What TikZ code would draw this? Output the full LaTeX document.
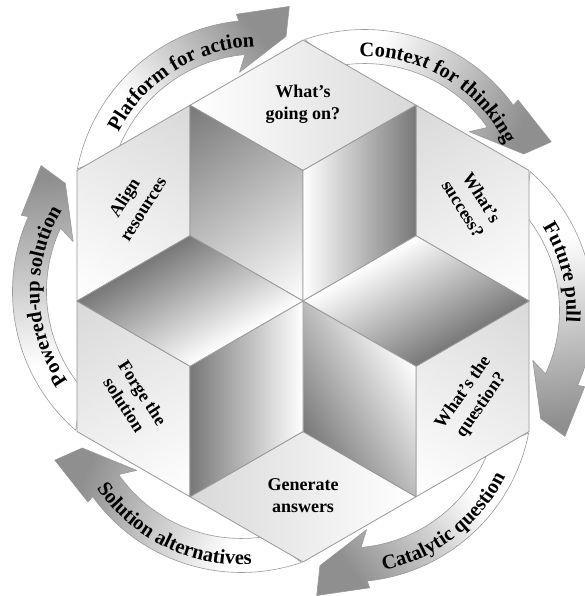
\documentclass[tikz,border=0pt]{standalone}
\usepackage{fontspec}
\setmainfont{Liberation Serif}
\usetikzlibrary{decorations.text,calc}
\definecolor{edgegray}{gray}{0.6}
\definecolor{innerdark}{gray}{0.47}
\definecolor{innermid}{gray}{0.85}
\definecolor{outerdark}{gray}{0.85}
\definecolor{outermid}{gray}{0.95}
\definecolor{arrowdark}{gray}{0.56}
\pgfdeclareverticalshading{bandshade}{100bp}{color(0bp)=(white); color(36bp)=(white); color(74bp)=(arrowdark); color(100bp)=(arrowdark)}
\newcommand\labfont{\bfseries\fontsize{18}{22}\selectfont}
\newcommand\arrfont{\bfseries\fontsize{20.5}{20.5}\selectfont}
\tikzset{
  face/.style={draw=edgegray, line width=0.8pt, line join=round},
  band/.style={draw=edgegray, line width=0.6pt, line join=round, shade, shading=bandshade, shading angle=#1},
  facelabel/.style={font=\labfont, align=center, inner sep=0pt, text=black},
  bandtext/.style={decorate, decoration={text along path, text align=center, text={|\arrfont|#1}}},
}
% #1 face path, #2 cx, #3 cy, #4 direction of dark side, #5 half span, #6 dark, #7 mid
\newcommand\gradface[7]{%
  \begin{scope}
    \clip #1;
    \begin{scope}[transform canvas={shift={(#2pt,#3pt)}, rotate=#4}]
      \shade[left color=white, middle color=#7, right color=#6] (-#5,-280) rectangle (#5,280);
      \fill[white] (-#5-300,-280) rectangle (-#5,280);
      \fill[#6] (#5,-280) rectangle (#5+300,280);
    \end{scope}
  \end{scope}
  \path[face] #1;}
\newcommand\curvedarrow[2]{%
  \begin{scope}[rotate=#1]
    \coordinate (C0) at (-45,97);
    \path[band=#2] ($(C0)+(169:184)$) arc[start angle=169, end angle=96, radius=184]
      -- ($(C0)+(96.5:191)$) -- ($(C0)+(81:200)$) -- ($(C0)+(80.5:170)$)
      -- ($(C0)+(98:133)$) -- ($(C0)+(95:150)$)
      arc[start angle=95, end angle=160, radius=150] -- cycle;
  \end{scope}}
\begin{document}
\begin{tikzpicture}[x=1pt,y=1pt]
\useasboundingbox (-303,301) rectangle (281,-295);
% ---- curved arrows (clockwise) ----
\curvedarrow{0}{-52.5}
\curvedarrow{-60}{-112.5}
\curvedarrow{-120}{-172.5}
\curvedarrow{-180}{-232.5}
\curvedarrow{-240}{-292.5}
\curvedarrow{-300}{-352.5}
% ---- hexagon points ----
\coordinate (O) at (0,0);
\coordinate (Vt) at (90:261);  \coordinate (Vur) at (30:261);
\coordinate (Vlr) at (-30:261); \coordinate (Vb) at (-90:261);
\coordinate (Vll) at (210:261); \coordinate (Vul) at (150:261);
\coordinate (Pt) at (90:130.5);  \coordinate (Pur) at (30:130.5);
\coordinate (Plr) at (-30:130.5); \coordinate (Pb) at (-90:130.5);
\coordinate (Pll) at (210:130.5); \coordinate (Pul) at (150:130.5);
\coordinate (Mtr) at (60:226.03); \coordinate (Mr) at (0:226.03);
\coordinate (Mbr) at (-60:226.03); \coordinate (Mbl) at (240:226.03);
\coordinate (Ml) at (180:226.03); \coordinate (Mtl) at (120:226.03);
% ---- outer (labelled) faces ----
\gradface{(Vt) -- (Mtl) -- (Pt) -- (Mtr) -- cycle}{0}{195.75}{0}{113}{outerdark}{outermid}
\gradface{(Vur) -- (Mtr) -- (Pur) -- (Mr) -- cycle}{169.5}{97.9}{120}{113}{outerdark}{outermid}
\gradface{(Vlr) -- (Mr) -- (Plr) -- (Mbr) -- cycle}{169.5}{-97.9}{60}{113}{outerdark}{outermid}
\gradface{(Vb) -- (Mbr) -- (Pb) -- (Mbl) -- cycle}{0}{-195.75}{180}{113}{outerdark}{outermid}
\gradface{(Vll) -- (Mbl) -- (Pll) -- (Ml) -- cycle}{-169.5}{-97.9}{120}{113}{outerdark}{outermid}
\gradface{(Vul) -- (Ml) -- (Pul) -- (Mtl) -- cycle}{-169.5}{97.9}{60}{113}{outerdark}{outermid}
% ---- inner (shaded) faces ----
\gradface{(O) -- (Pt) -- (Mtl) -- (Pul) -- cycle}{-56.5}{97.9}{125}{113}{innerdark}{innermid}
\gradface{(O) -- (Pt) -- (Mtr) -- (Pur) -- cycle}{56.5}{97.9}{0}{56.5}{innerdark}{innermid}
\gradface{(O) -- (Pur) -- (Mr) -- (Plr) -- cycle}{113}{0}{-60}{56.5}{innerdark}{innermid}
\gradface{(O) -- (Plr) -- (Mbr) -- (Pb) -- cycle}{56.5}{-97.9}{210}{65.2}{innerdark}{innermid}
\gradface{(O) -- (Pb) -- (Mbl) -- (Pll) -- cycle}{-56.5}{-97.9}{180}{56.5}{innerdark}{innermid}
\gradface{(O) -- (Pll) -- (Ml) -- (Pul) -- cycle}{-113}{0}{120}{56.5}{innerdark}{innermid}
% ---- face labels ----
\node[facelabel] (going) at (0,197) {What’s\\going on?};
\node[facelabel, rotate=-58] (success) at (169.5,97.9) {What’s\\success?};
\node[facelabel, rotate=55] (question) at (169.5,-97.9) {What’s the\\question?};
\node[facelabel] (generate) at (0,-195) {Generate\\answers};
\node[facelabel, rotate=-57] (forge) at (-169.5,-97.9) {Forge the\\solution};
\node[facelabel, rotate=58] (align) at (-169.5,97.9) {Align\\resources};
% ---- arrow labels ----
\begin{scope}[rotate=0]
  \coordinate (C0) at (-45,97);
  \path[bandtext={Platform for action}] ($(C0)+(158:157)$) arc[start angle=158, end angle=86, radius=157];
\end{scope}
\begin{scope}[rotate=-60]
  \coordinate (C0) at (-45,97);
  \path[bandtext={Context for thinking}] ($(C0)+(155:157)$) arc[start angle=155, end angle=83, radius=157];
\end{scope}
\begin{scope}[rotate=-120]
  \coordinate (C0) at (-45,97);
  \path[bandtext={Future pull}] ($(C0)+(170:157)$) arc[start angle=170, end angle=98, radius=157];
\end{scope}
\begin{scope}[rotate=-180]
  \coordinate (C0) at (-45,97);
  \path[bandtext={Catalytic question}] ($(C0)+(90:176)$) arc[start angle=90, end angle=165, radius=176];
\end{scope}
\begin{scope}[rotate=-240]
  \coordinate (C0) at (-45,97);
  \path[bandtext={Solution alternatives}] ($(C0)+(87:176)$) arc[start angle=87, end angle=161, radius=176];
\end{scope}
\begin{scope}[rotate=-300]
  \coordinate (C0) at (-45,97);
  \path[bandtext={Powered-up solution}] ($(C0)+(158:157)$) arc[start angle=158, end angle=86, radius=157];
\end{scope}
\end{tikzpicture}
\end{document}
